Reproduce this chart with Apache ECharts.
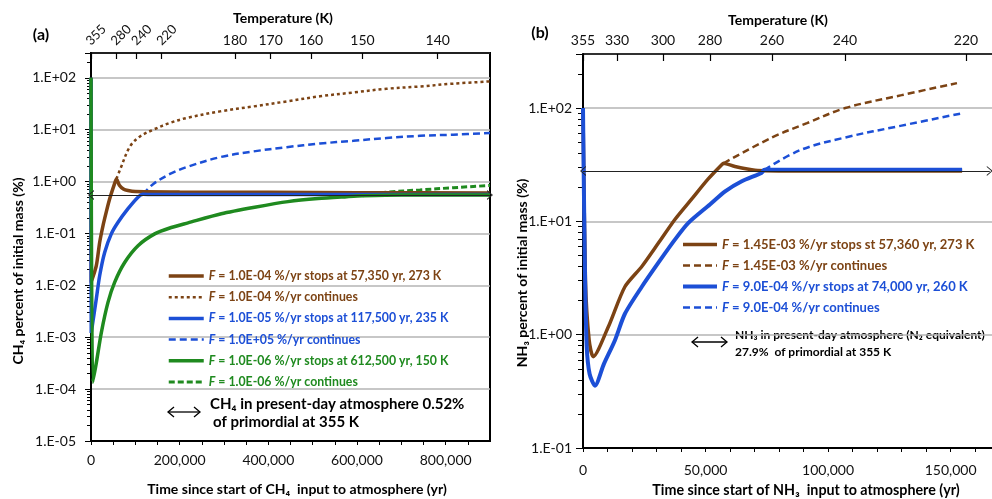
<!DOCTYPE html>
<html><head><meta charset="utf-8">
<script src="https://cdn.jsdelivr.net/npm/echarts@6/dist/echarts.min.js"></script>
<style>html,body{margin:0;padding:0;background:#fff}#c{width:992px;height:499px}</style>
</head><body><div id="c"></div>
<script>
// ================= DATA =================
// Panel (a): CH4 — [time since start (yr), percent of initial mass (%)]
const aBrownStop = [[0,100],[500,0.0114],[12000,0.024],[19500,0.067],[27000,0.14],[34500,0.26],[42000,0.46],[53000,0.9],[57350,1.12],[64000,0.85],[73000,0.72],[83500,0.67],[100000,0.64],[200000,0.63],[400000,0.62],[600000,0.61],[900000,0.6]];
const aBrownCont = [[57350,1.12],[65400,1.68],[88000,4.75],[110500,7.4],[140600,10],[178200,13.5],[215800,16.8],[291000,22.5],[366000,28],[441400,35],[516600,44],[591800,52],[667000,61.5],[742000,68],[817000,77],[900000,85]];
const aBlueStop = [[0,100],[500,0.0012],[12000,0.0055],[19500,0.0153],[30800,0.043],[45800,0.098],[61000,0.164],[83500,0.30],[106000,0.5],[117500,0.57],[140000,0.56],[300000,0.56],[900000,0.56]];
const aBlueCont = [[117500,0.57],[140600,0.9],[178200,1.4],[215800,1.9],[291000,2.95],[366000,3.8],[441400,4.6],[516600,5.4],[591800,6.1],[667000,6.9],[742000,7.6],[817000,8.0],[900000,8.6]];
const aGreenStop = [[0,100],[4000,0.000135],[12000,0.00032],[23300,0.00123],[38300,0.0047],[53300,0.0114],[75900,0.0275],[106000,0.058],[143700,0.098],[181000,0.13],[218800,0.16],[294000,0.24],[369200,0.32],[444400,0.41],[512000,0.47],[577000,0.51],[612500,0.53],[700000,0.55],[900000,0.55]];
const aGreenCont = [[612500,0.53],[667000,0.62],[742000,0.69],[817000,0.76],[900000,0.84]];
const aPresentDay = 0.55;              // CH4 present-day level line (%)
const aXMax = 900000;
const aTopTimes = [0,56400,103000,159400,324800,405300,496200,612500,782000];
const aTopTemps = ['355','280','240','220','180','170','160','150','140'];
const aRotatedCount = 4;               // first labels drawn tilted

// Panel (b): NH3 — [time since start (yr), percent of initial mass (%)]
const bBrownStop = [[0,100],[1000,3],[2500,0.9],[4200,0.64],[10300,1.17],[17100,2.65],[24000,4.0],[30700,6.4],[37500,10.4],[44400,15.8],[51100,23.7],[56600,31.6],[57360,32.6],[62000,30.5],[70200,28.3],[85000,27.9],[154700,27.9]];
const bBrownCont = [[57360,32.6],[77100,55],[91400,73.6],[107000,100],[130000,130],[152600,166]];
const bBlueStop = [[0,100],[700,5],[1500,0.8],[2700,0.45],[4900,0.355],[8500,0.55],[13000,0.89],[17100,1.53],[24000,2.65],[30700,4.3],[37500,6.9],[43000,9.7],[51800,14.1],[58000,18.4],[64800,22.6],[73000,26.9],[74000,28.5],[85000,28.5],[154700,28.5]];
const bBlueCont = [[74000,28.5],[88600,42.5],[107000,55],[130000,70],[154700,90]];
const bPresentDay = 27.9;              // NH3 present-day level line (%)
const bXMax = 166900;
const bLineEnd = 166000;
const bTopTimes = [0,13900,32650,51800,77100,106900,156300];
const bTopTemps = ['355','330','300','280','260','240','220'];

// legend names
const aNames = ['F = 1.0E-04 %/yr stops at 57,350 yr, 273 K','F = 1.0E-04 %/yr continues','F = 1.0E-05 %/yr stops at 117,500 yr, 235 K','F = 1.0E+05 %/yr continues','F = 1.0E-06 %/yr stops at 612,500 yr, 150 K','F = 1.0E-06 %/yr continues'];
const bNames = ['F = 1.45E-03 %/yr stops st 57,360 yr, 273 K','F = 1.45E-03 %/yr continues','F = 9.0E-04 %/yr stops at 74,000 yr, 260 K','F = 9.0E-04 %/yr continues'];

// ================= STYLE =================
const BROWN = '#7c4314', BLUE = '#1c4fd6', GREEN = '#1f8a1f';
const FONT = 'Lato, "Liberation Sans", sans-serif';

function logFmt(v){
  const e = Math.log10(v), r = Math.round(e);
  if (Math.abs(e - r) > 1e-6) return '';
  return '1.E' + (r < 0 ? '-' : '+') + String(Math.abs(r)).padStart(2,'0');
}
function commaFmt(v){ return v.toLocaleString('en-US'); }
function minorLogTicks(lo, hi){
  const out = [];
  for (let e = lo; e <= hi; e++) for (let k = 1; k <= 9; k++) out.push(Math.log10(k) + e);
  return out;
}
const chevron = 'path://M0,10 L5,0 L10,10 L8.8,10 L5,2.4 L1.2,10 Z';

function legendData(names, colors, size){
  return names.map((n,i)=>({name:n, textStyle:{color:colors[i], fontSize:size, fontWeight:'bold', fontFamily:FONT,
    rich:{f:{color:colors[i], fontStyle:'italic', fontWeight:'bold', fontSize:size, fontFamily:FONT}}}}));
}

function arrow(x1, x2, y){
  return {type:'group', children:[
    {type:'line', shape:{x1:x1, y1:y, x2:x2, y2:y}, style:{stroke:'#000', lineWidth:1.3}},
    {type:'polyline', shape:{points:[[x1+6,y-5],[x1,y],[x1+6,y+5]]}, style:{stroke:'#000', lineWidth:1.3, fill:null}},
    {type:'polyline', shape:{points:[[x2-6,y-5],[x2,y],[x2-6,y+5]]}, style:{stroke:'#000', lineWidth:1.3, fill:null}}
  ]};
}
function txt(x, y, s, font, extra){
  return {type:'text', x:x, y:y, style:Object.assign({text:s, font:font, fill:'#000', align:'center', verticalAlign:'middle'}, extra||{})};
}

const axisLbl = {fontFamily:FONT, fontSize:14, color:'#111'};

const option = {
  animation:false,
  backgroundColor:'#fff',
  grid:[
    {left:91, top:53, width:399, height:388, show:true, borderColor:'#000', borderWidth:2, containLabel:false},
    {left:583, top:54, width:409, height:394, show:false, containLabel:false}
  ],
  xAxis:[
    {gridIndex:0, type:'value', position:'bottom', min:0, max:aXMax, interval:50000,
     axisLine:{onZero:false, lineStyle:{color:'#000', width:2}}, axisTick:{length:4, lineStyle:{color:'#000'}},
     axisLabel:Object.assign({margin:12, showMaxLabel:false, formatter:v=> v%200000===0 ? commaFmt(v) : ''}, axisLbl), splitLine:{show:false}},
    {gridIndex:0, type:'value', position:'top', min:0, max:aXMax,
     axisLine:{onZero:false, lineStyle:{color:'#000', width:1.5}},
     axisTick:{inside:true, length:6, customValues:aTopTimes, lineStyle:{color:'#000', width:1.2}},
     axisLabel:{show:false}, splitLine:{show:false}},
    {gridIndex:0, type:'value', position:'top', min:0, max:aXMax,
     axisLine:{show:false, onZero:false}, axisTick:{show:false},
     axisLabel:Object.assign({margin:6, customValues:aTopTimes.slice(aRotatedCount),
       formatter:v=>aTopTemps[aTopTimes.indexOf(v)]}, axisLbl), splitLine:{show:false}},
    {gridIndex:1, type:'value', position:'bottom', min:0, max:bXMax, interval:10000,
     axisLine:{onZero:false, lineStyle:{color:'#000', width:2}}, axisTick:{length:4, lineStyle:{color:'#000'}},
     axisLabel:Object.assign({margin:15, showMaxLabel:false, formatter:v=> v%50000===0 ? commaFmt(v) : ''}, axisLbl), splitLine:{show:false}},
    {gridIndex:1, type:'value', position:'top', min:0, max:bXMax,
     axisLine:{onZero:false, lineStyle:{color:'#000', width:1.5}},
     axisTick:{inside:true, length:7, customValues:bTopTimes, lineStyle:{color:'#000', width:1.2}},
     axisLabel:Object.assign({margin:7, customValues:bTopTimes,
       formatter:v=>bTopTemps[bTopTimes.indexOf(v)]}, axisLbl), splitLine:{show:false}}
  ],
  yAxis:[
    {gridIndex:0, type:'log', logBase:10, min:1e-5, max:300, position:'left',
     axisLine:{show:true, onZero:false, lineStyle:{color:'#000', width:2}}, axisTick:{show:true, length:6, lineStyle:{color:'#000'}},
     axisLabel:Object.assign({margin:15, formatter:logFmt}, axisLbl),
     splitLine:{show:true, lineStyle:{color:'#b4b4b4', width:1.5}}, minorTick:{show:false}},
    {gridIndex:0, type:'value', min:-5, max:Math.log10(300), position:'left',
     axisLine:{show:false, onZero:false}, axisTick:{show:true, length:4, customValues:minorLogTicks(-5,2), lineStyle:{color:'#000'}},
     axisLabel:{show:false}, splitLine:{show:false}},
    {gridIndex:1, type:'log', logBase:10, min:0.1, max:300, position:'left',
     axisLine:{show:true, onZero:false, lineStyle:{color:'#000', width:2}}, axisTick:{show:true, length:7, lineStyle:{color:'#000'}},
     axisLabel:Object.assign({margin:11, formatter:logFmt}, axisLbl),
     splitLine:{show:true, lineStyle:{color:'#b4b4b4', width:1.5}}, minorTick:{show:false}},
    {gridIndex:1, type:'value', min:-1, max:Math.log10(300), position:'left',
     axisLine:{show:false, onZero:false}, axisTick:{show:true, length:5, customValues:minorLogTicks(-1,2), lineStyle:{color:'#000'}},
     axisLabel:{show:false}, splitLine:{show:false}}
  ],
  legend:[
    {left:167, top:270, padding:0, orient:'vertical', itemWidth:35, itemHeight:14, itemGap:9.2, selectedMode:false,
     itemStyle:{opacity:0}, lineStyle:{width:'inherit'},
     formatter:n=>'{f|F}'+n.slice(1), data:legendData(aNames,[BROWN,BROWN,BLUE,BLUE,GREEN,GREEN],12.3)},
    {left:681, top:238, padding:0, orient:'vertical', itemWidth:34, itemHeight:14, itemGap:8, selectedMode:false,
     itemStyle:{opacity:0}, lineStyle:{width:'inherit'},
     formatter:n=>'{f|F}'+n.slice(1), data:legendData(bNames,[BROWN,BROWN,BLUE,BLUE],13)}
  ],
  series:[
    {name:aNames[1], type:'line', xAxisIndex:0, yAxisIndex:0, data:aBrownCont, symbol:'none', smooth:0.35, lineStyle:{color:BROWN, width:2.5, type:[3,3]}, itemStyle:{color:BROWN}},
    {name:aNames[3], type:'line', xAxisIndex:0, yAxisIndex:0, data:aBlueCont, symbol:'none', smooth:0.35, lineStyle:{color:BLUE, width:2.5, type:[7,4]}, itemStyle:{color:BLUE}},
    {name:aNames[5], type:'line', xAxisIndex:0, yAxisIndex:0, data:aGreenCont, symbol:'none', smooth:0.35, lineStyle:{color:GREEN, width:3, type:[6,3]}, itemStyle:{color:GREEN}},
    {name:aNames[0], type:'line', xAxisIndex:0, yAxisIndex:0, data:aBrownStop, symbol:'none', smooth:0.25, lineStyle:{color:BROWN, width:3.5}, itemStyle:{color:BROWN}},
    {name:aNames[2], type:'line', xAxisIndex:0, yAxisIndex:0, data:aBlueStop, symbol:'none', smooth:0.25, lineStyle:{color:BLUE, width:3.5}, itemStyle:{color:BLUE}},
    {name:aNames[4], type:'line', xAxisIndex:0, yAxisIndex:0, data:aGreenStop, symbol:'none', smooth:0.25, lineStyle:{color:GREEN, width:3.5}, itemStyle:{color:GREEN}},
    {name:'refA', type:'line', xAxisIndex:0, yAxisIndex:0, data:[], markLine:{silent:true, symbol:[chevron,chevron], symbolSize:[10,6],
      label:{show:false}, lineStyle:{color:'#222', width:1.2, type:'solid'},
      data:[[{coord:[0,aPresentDay]},{coord:[aXMax,aPresentDay]}]]}},

    {name:bNames[1], type:'line', xAxisIndex:3, yAxisIndex:2, data:bBrownCont, symbol:'none', smooth:0.35, lineStyle:{color:BROWN, width:2.5, type:[7,4]}, itemStyle:{color:BROWN}},
    {name:bNames[3], type:'line', xAxisIndex:3, yAxisIndex:2, data:bBlueCont, symbol:'none', smooth:0.35, lineStyle:{color:BLUE, width:2.5, type:[7,4]}, itemStyle:{color:BLUE}},
    {name:bNames[0], type:'line', xAxisIndex:3, yAxisIndex:2, data:bBrownStop, symbol:'none', smooth:0.25, lineStyle:{color:BROWN, width:3.5}, itemStyle:{color:BROWN}},
    {name:bNames[2], type:'line', xAxisIndex:3, yAxisIndex:2, data:bBlueStop, symbol:'none', smooth:0.25, lineStyle:{color:BLUE, width:4}, itemStyle:{color:BLUE}},
    {name:'refB', type:'line', xAxisIndex:3, yAxisIndex:2, data:[], markLine:{silent:true, symbol:[chevron,chevron], symbolSize:[10,6],
      label:{show:false}, lineStyle:{color:'#222', width:1.2, type:'solid'},
      data:[[{coord:[0,bPresentDay]},{coord:[bLineEnd,bPresentDay]}]]}}
  ],
  graphic:[
    txt(41, 35, '(a)', 'bold 16px '+FONT),
    txt(540, 33, '(b)', 'bold 16px '+FONT),
    txt(283, 18, 'Temperature (K)', 'bold 14px '+FONT),
    txt(778, 20, 'Temperature (K)', 'bold 14px '+FONT),
    Object.assign(txt(18, 271, 'CH₄ percent of initial mass (%)', 'bold 14px '+FONT), {rotation:Math.PI/2}),
    Object.assign(txt(522, 273, 'NH₃ percent of initial mass (%)', 'bold 14px '+FONT), {rotation:Math.PI/2}),
    txt(297, 489, 'Time since start of CH₄  input to atmosphere (yr)', 'bold 14px '+FONT),
    txt(806, 490, 'Time since start of NH₃  input to atmosphere (yr)', 'bold 14.3px '+FONT),
    arrow(168, 200, 412),
    txt(210, 404, 'CH₄ in present-day atmosphere 0.52%', 'bold 15px '+FONT, {align:'left'}),
    txt(213, 422, 'of primordial at 355 K', 'bold 15px '+FONT, {align:'left'}),
    arrow(692, 727, 342),
    txt(735, 335, 'NH₃ in present-day atmosphere (N₂ equivalent)', 'bold 12px '+FONT, {align:'left'}),
    txt(735, 352, '27.9%  of primordial at 355 K', 'bold 12px '+FONT, {align:'left'})
  ]
};
const chart = echarts.init(document.getElementById('c'), null, {renderer:'canvas'});
chart.setOption(option);

// Tilted temperature labels of panel (a): placed at the top axis' own pixel positions
const tilted = aTopTimes.slice(0, aRotatedCount).map((t, i) => ({
  type:'text',
  x: chart.convertToPixel({xAxisIndex:1}, t) - 3,
  y: 43,
  rotation: Math.PI/4,
  style:{text:aTopTemps[i], font:'13px '+FONT, fill:'#111', align:'left', verticalAlign:'middle'}
}));
chart.setOption({graphic: option.graphic.concat(tilted)});
</script></body></html>
